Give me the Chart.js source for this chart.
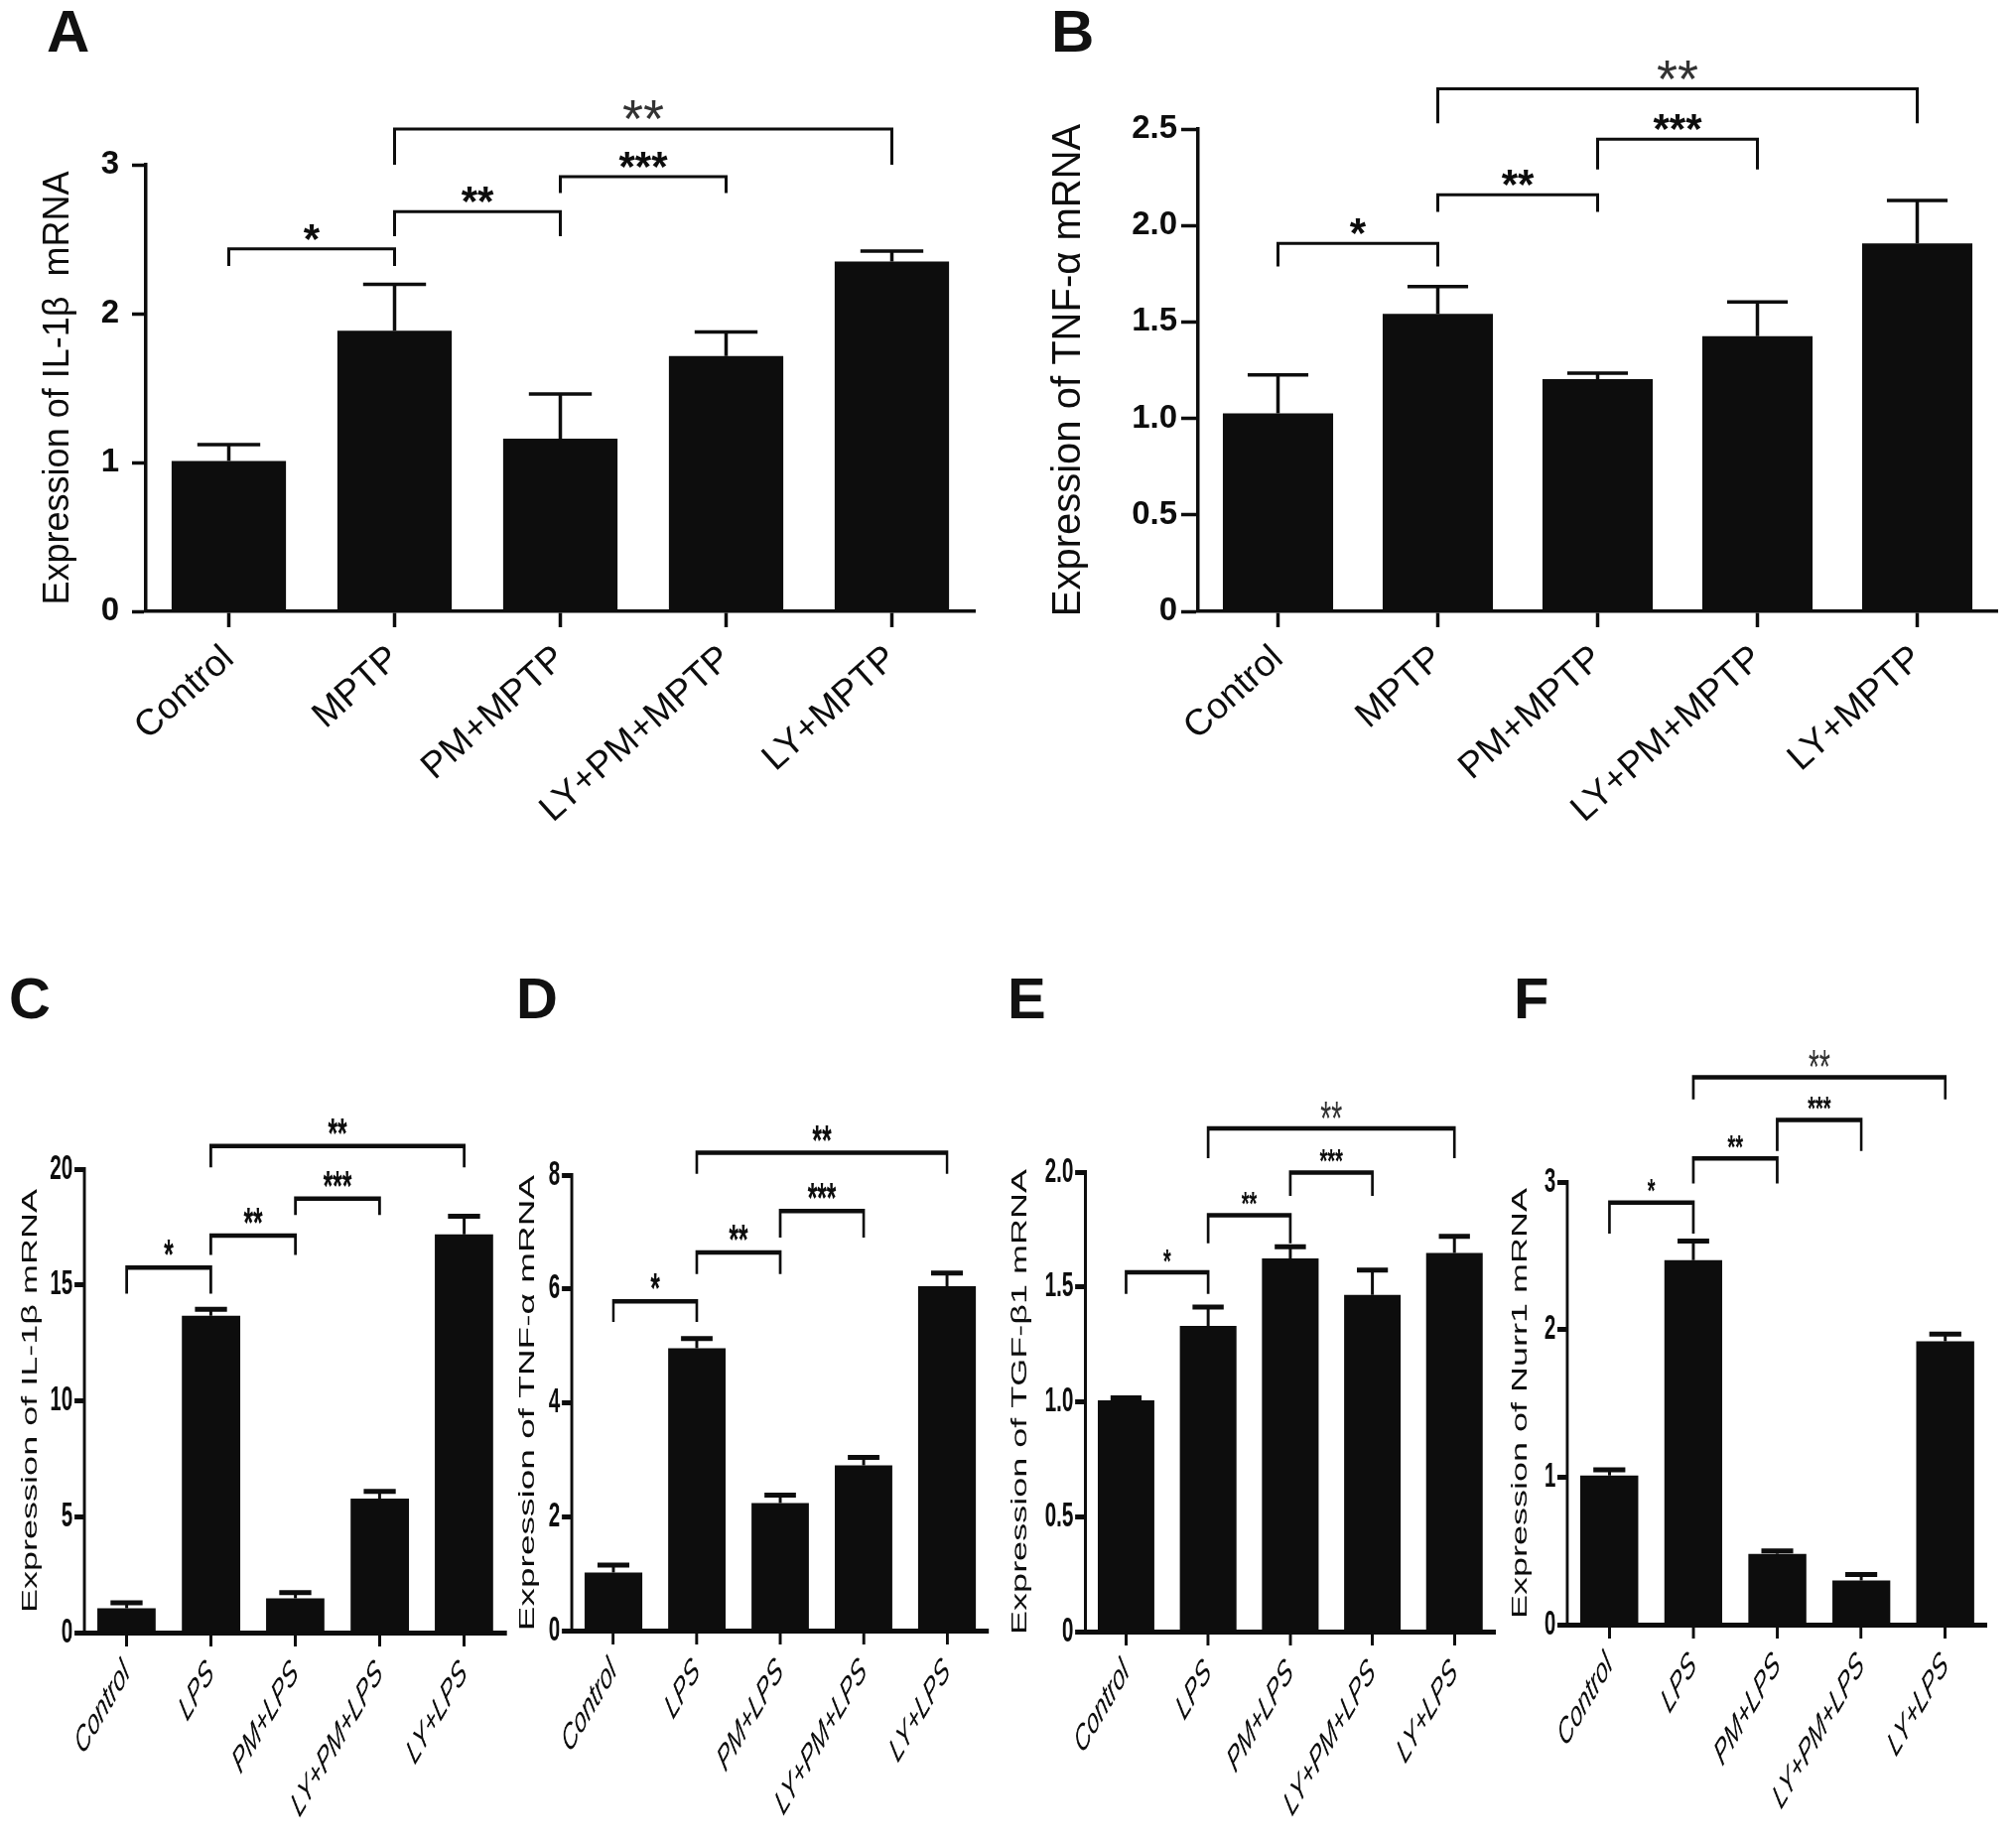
<!DOCTYPE html>
<html>
<head>
<meta charset="utf-8">
<script src="https://cdn.jsdelivr.net/npm/chart.js@4.4.0/dist/chart.umd.min.js"></script>
<style>
  html, body { margin: 0; padding: 0; background: #fff; overflow: hidden; }
  #page { position: relative; width: 2031px; height: 1853px; overflow: hidden; background: #fff; }
  .panel { position: absolute; }
  .tag { position: absolute; font-family: 'Liberation Sans', Arial, sans-serif; font-weight: bold; color: #111; }
  .tag.big { font-size: 60px; line-height: 60px; }
  .tag.small { font-size: 58px; line-height: 58px; }
</style>
</head>
<body>
<div id="page">
  <div class="tag big" style="left:47px; top:2px">A</div>
  <div class="tag big" style="left:1059px; top:2px">B</div>
  <div class="tag small" style="left:9px; top:977px">C</div>
  <div class="tag small" style="left:520px; top:977px">D</div>
  <div class="tag small" style="left:1015px; top:977px">E</div>
  <div class="tag small" style="left:1525px; top:977px">F</div>
</div>
<script>
// --- 群ラベル ---
const catsMPTP = ['Control', 'MPTP', 'PM+MPTP', 'LY+PM+MPTP', 'LY+MPTP'];
const catsLPS = ['Control', 'LPS', 'PM+LPS', 'LY+PM+LPS', 'LY+LPS'];

// --- 平均値と誤差の上端 ---
const meanA = [1.01, 1.885, 1.16, 1.715, 2.35];
const errA = [1.12, 2.196, 1.46, 1.877, 2.42];
const meanB = [1.026, 1.542, 1.204, 1.426, 1.907];
const errB = [1.225, 1.684, 1.234, 1.604, 2.13];
const meanC = [1.05, 13.67, 1.48, 5.78, 17.18];
const errC = [1.29, 13.95, 1.72, 6.09, 17.97];
const meanD = [1.02, 4.96, 2.24, 2.9, 6.05];
const errD = [1.15, 5.13, 2.38, 3.04, 6.28];
const meanE = [1.007, 1.33, 1.624, 1.465, 1.648];
const errE = [1.017, 1.412, 1.675, 1.573, 1.72];
const meanF = [1.01, 2.47, 0.48, 0.3, 1.92];
const errF = [1.05, 2.6, 0.5, 0.34, 1.97];

// --- 目盛り ---
const tickTextA = ['0', '1', '2', '3'];
const tickTextB = ['0', '0.5', '1.0', '1.5', '2.0', '2.5'];
const tickTextC = ['0', '5', '10', '15', '20'];
const tickTextD = ['0', '2', '4', '6', '8'];
const tickTextE = ['0', '0.5', '1.0', '1.5', '2.0'];
const tickTextF = ['0', '1', '2', '3'];

// --- 有意差ブラケット (群の番号と高さ) ---
const bracketFrom = [0, 1, 2, 1];
const bracketTo = [1, 2, 3, 4];
const bracketStars = ['*', '**', '***', '**'];
const bracketTopA = [2.435, 2.685, 2.92, 3.24];
const bracketBaseA = [2.32, 2.52, 2.81, 3.0];
const bracketTopB = [1.907, 2.159, 2.447, 2.708];
const bracketBaseB = [1.788, 2.07, 2.29, 2.53];
const bracketTopC = [15.75, 17.13, 18.73, 21.0];
const bracketBaseC = [14.62, 16.3, 18.02, 20.07];
const bracketTopD = [5.78, 6.64, 7.37, 8.39];
const bracketBaseD = [5.42, 6.26, 6.9, 8.02];
const bracketTopE = [1.564, 1.812, 1.998, 2.19];
const bracketBaseE = [1.47, 1.69, 1.896, 2.06];
const bracketTopF = [2.86, 3.16, 3.42, 3.71];
const bracketBaseF = [2.65, 2.99, 3.21, 3.56];

const INK = '#0d0d0d';
const FONT = "'Liberation Sans', Arial, sans-serif";

// 上段と下段の見た目 (下段は横方向に縮めて描く)
const lookTop = { sx: 1, tick: 33, label: 37, rot: 42, labelPad: 10, xTick: 16, yTick: 14, yPad: 13,
  axis: 3.5, err: 3.5, bracket: 3, star: 42, thin: 54, italic: false, starGap: 14, thinGap: 15 };
const lookBottom = { sx: 1.7, tick: 35, label: 36, rot: 45, labelPad: 6, xTick: 14, yTick: 17, yPad: 3,
  axis: 5, err: 5, bracket: 4.5, star: 42, thin: 48, italic: true, starGap: 17, thinGap: 15 };

const panels = [
  { id: 'A', cats: catsMPTP, mean: meanA, err: errA, top: bracketTopA, base: bracketBaseA,
    max: 3, step: 1, tickText: tickTextA, title: 'Expression of IL-1β  mRNA', titleSize: 36,
    look: lookTop, thinTop: true, box: [0, 0, 1000, 900], plot: [147, 166, 982, 616], titleX: 59 },
  { id: 'B', cats: catsMPTP, mean: meanB, err: errB, top: bracketTopB, base: bracketBaseB,
    max: 2.5, step: 0.5, tickText: tickTextB, title: 'Expression of TNF-α mRNA', titleSize: 40,
    look: Object.assign({}, lookTop, { yTick: 17, yPad: 4 }), thinTop: true,
    box: [1010, 0, 1021, 900], plot: [1207, 130, 2012, 616], titleX: 67 },
  { id: 'C', cats: catsLPS, mean: meanC, err: errC, top: bracketTopC, base: bracketBaseC,
    max: 20, step: 5, tickText: tickTextC, title: 'Expression of IL-1β mRNA', titleSize: 36,
    look: lookBottom, thinTop: false, box: [0, 960, 520, 893], plot: [85, 1178, 510, 1645], titleX: 31 },
  { id: 'D', cats: catsLPS, mean: meanD, err: errD, top: bracketTopD, base: bracketBaseD,
    max: 8, step: 2, tickText: tickTextD, title: 'Expression of TNF-α mRNA', titleSize: 37,
    look: lookBottom, thinTop: false, box: [501, 960, 510, 893], plot: [576, 1184, 996, 1643], titleX: 31 },
  { id: 'E', cats: catsLPS, mean: meanE, err: errE, top: bracketTopE, base: bracketBaseE,
    max: 2, step: 0.5, tickText: tickTextE, title: 'Expression of TGF-β1 mRNA', titleSize: 36,
    look: Object.assign({}, lookBottom, { star: 34, starGap: 15 }), thinTop: true,
    box: [997, 960, 515, 893], plot: [1093, 1181, 1506, 1644], titleX: 31 },
  { id: 'F', cats: catsLPS, mean: meanF, err: errF, top: bracketTopF, base: bracketBaseF,
    max: 3, step: 1, tickText: tickTextF, title: 'Expression of Nurr1 mRNA', titleSize: 36,
    look: Object.assign({}, lookBottom, { star: 34, starGap: 15 }), thinTop: true,
    box: [1501, 960, 530, 893], plot: [1579, 1191, 2002, 1637], titleX: 31 }
];

// 誤差棒と有意差ブラケットを描くプラグイン
function marks(p) {
  const L = p.look;
  return {
    id: 'marks' + p.id,
    afterDatasetsDraw(chart) {
      const { ctx } = chart;
      const x = chart.scales.x;
      const y = chart.scales.y;
      const bars = chart.getDatasetMeta(0).data;
      ctx.save();
      ctx.strokeStyle = INK;
      ctx.fillStyle = INK;

      // 上側だけの誤差棒
      ctx.lineWidth = L.err;
      p.err.forEach((e, i) => {
        const b = bars[i];
        const yy = y.getPixelForValue(e);
        const half = b.width * 0.275;
        ctx.beginPath();
        ctx.moveTo(b.x, b.y);
        ctx.lineTo(b.x, yy);
        ctx.moveTo(b.x - half, yy);
        ctx.lineTo(b.x + half, yy);
        ctx.stroke();
      });

      // ブラケットと星印 (星の下端が線から一定の距離になるように置く)
      ctx.lineWidth = L.bracket;
      ctx.textAlign = 'center';
      ctx.textBaseline = 'alphabetic';
      bracketFrom.forEach((from, j) => {
        const x0 = x.getPixelForValue(from);
        const x1 = x.getPixelForValue(bracketTo[j]);
        const yt = y.getPixelForValue(p.top[j]);
        const yb = y.getPixelForValue(p.base[j]);
        ctx.beginPath();
        ctx.moveTo(x0, yb);
        ctx.lineTo(x0, yt);
        ctx.lineTo(x1, yt);
        ctx.lineTo(x1, yb);
        ctx.stroke();
        const thin = p.thinTop && j === 3;
        const size = thin ? L.thin : L.star;
        const gap = thin ? L.thinGap : L.starGap;
        ctx.font = thin ? `normal ${size}px ${FONT}` : `bold ${size}px ${FONT}`;
        ctx.fillStyle = thin ? '#333' : INK;
        ctx.fillText(bracketStars[j], (x0 + x1) / 2, yt - gap + size * 0.43);
      });
      ctx.restore();
    }
  };
}

function makeChart(p) {
  const L = p.look;
  const k = L.sx;
  const [bx, by, bw, bh] = p.box;
  const [pl, pt, pr, pb] = p.plot;

  const holder = document.createElement('div');
  holder.className = 'panel';
  holder.style.left = bx + 'px';
  holder.style.top = by + 'px';
  holder.style.width = (bw * k) + 'px';
  holder.style.height = bh + 'px';
  holder.style.transform = `scaleX(${1 / k})`;
  holder.style.transformOrigin = '0 0';
  const canvas = document.createElement('canvas');
  holder.appendChild(canvas);
  document.getElementById('page').appendChild(holder);

  return new Chart(canvas, {
    type: 'bar',
    data: {
      labels: p.cats,
      datasets: [{
        data: p.mean,
        backgroundColor: INK,
        borderWidth: 0,
        barPercentage: 0.69,
        categoryPercentage: 1
      }]
    },
    options: {
      responsive: true,
      maintainAspectRatio: false,
      animation: false,
      layout: { padding: { left: 0, top: pt - by, right: (bx + bw - pr) * k, bottom: 0 } },
      plugins: { legend: { display: false }, tooltip: { enabled: false } },
      scales: {
        x: {
          offset: true,
          grid: { offset: false, drawOnChartArea: false, tickLength: L.xTick, tickWidth: L.axis, tickColor: INK },
          border: { display: true, color: INK, width: L.axis },
          ticks: {
            color: INK,
            autoSkip: false,
            minRotation: L.rot,
            maxRotation: L.rot,
            padding: L.labelPad,
            font: { family: FONT, size: L.label, style: L.italic ? 'italic' : 'normal' }
          },
          afterFit: s => { s.height = by + bh - pb; }
        },
        y: {
          min: 0,
          max: p.max,
          ticks: {
            stepSize: p.step,
            padding: L.yPad,
            color: INK,
            font: { family: FONT, size: L.tick, weight: 'bold' },
            callback: (v, i) => p.tickText[i]
          },
          grid: { drawOnChartArea: false, tickLength: L.yTick, tickWidth: L.axis, tickColor: INK },
          border: { display: true, color: INK, width: L.axis },
          title: {
            display: true,
            text: p.title,
            color: INK,
            font: { family: FONT, size: p.titleSize },
            padding: { top: p.titleX * k - p.titleSize * 0.6, bottom: 0 }
          },
          afterFit: s => { s.width = (pl - bx) * k; }
        }
      }
    },
    plugins: [marks(p)]
  });
}

panels.forEach(makeChart);
</script>
</body>
</html>
